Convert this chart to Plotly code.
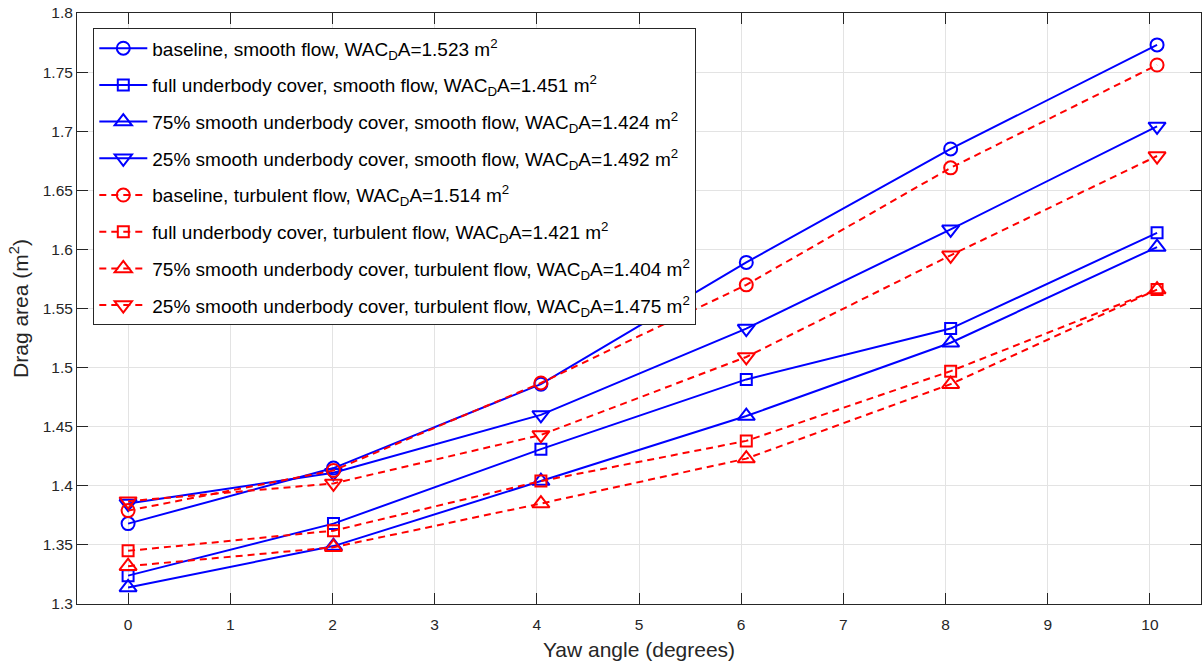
import plotly.graph_objects as go

yaw = [0, 2.01, 4.04, 6.05, 8.05, 10.07]

baseline_smooth = [1.368, 1.415, 1.486, 1.589, 1.685, 1.773]
full_smooth = [1.324, 1.368, 1.431, 1.490, 1.533, 1.614]
p75_smooth = [1.314, 1.349, 1.404, 1.459, 1.521, 1.602]
p25_smooth = [1.385, 1.411, 1.460, 1.533, 1.617, 1.704]
baseline_turb = [1.379, 1.413, 1.487, 1.570, 1.669, 1.756]
full_turb = [1.345, 1.362, 1.404, 1.438, 1.497, 1.566]
p75_turb = [1.332, 1.348, 1.385, 1.423, 1.486, 1.566]
p25_turb = [1.387, 1.402, 1.443, 1.509, 1.595, 1.679]

names = [
    "baseline, smooth flow, WAC<sub>D</sub>A=1.523 m<sup>2</sup>",
    "full underbody cover, smooth flow, WAC<sub>D</sub>A=1.451 m<sup>2</sup>",
    "75% smooth underbody cover, smooth flow, WAC<sub>D</sub>A=1.424 m<sup>2</sup>",
    "25% smooth underbody cover, smooth flow, WAC<sub>D</sub>A=1.492 m<sup>2</sup>",
    "baseline, turbulent flow, WAC<sub>D</sub>A=1.514 m<sup>2</sup>",
    "full underbody cover, turbulent flow, WAC<sub>D</sub>A=1.421 m<sup>2</sup>",
    "75% smooth underbody cover, turbulent flow, WAC<sub>D</sub>A=1.404 m<sup>2</sup>",
    "25% smooth underbody cover, turbulent flow, WAC<sub>D</sub>A=1.475 m<sup>2</sup>",
]
series = [baseline_smooth, full_smooth, p75_smooth, p25_smooth,
          baseline_turb, full_turb, p75_turb, p25_turb]
symbols = ["circle-open", "square-open", "triangle-up-open", "triangle-down-open"] * 2
sizes = [13, 11, 15, 15] * 2
colors = ["#0000ff"] * 4 + ["#ff0000"] * 4
dashes = ["solid"] * 4 + ["7px,5px"] * 4

fig = go.Figure()
for i in range(8):
    fig.add_trace(go.Scatter(
        x=yaw, y=series[i], name=names[i], mode="lines+markers",
        line=dict(color=colors[i], width=2, dash=dashes[i]),
        marker=dict(symbol=symbols[i], size=sizes[i], color=colors[i],
                    line=dict(width=2, color=colors[i])),
        legendgroup="g%d" % i,
    ))

FONT = "Liberation Sans, Arial, sans-serif"
axis_common = dict(
    showline=True, linecolor="#262626", linewidth=1, mirror="allticks",
    ticks="inside", ticklen=11, tickcolor="#262626", tickwidth=1,
    showgrid=True, gridcolor="#e3e3e3", gridwidth=1, zeroline=False,
    tickfont=dict(family=FONT, size=15.5, color="#262626"),
)

fig.update_layout(
    width=1202, height=662,
    margin=dict(l=77, r=1, t=13, b=58),
    paper_bgcolor="white", plot_bgcolor="white",
    font=dict(family=FONT, color="#262626"),
    xaxis=dict(range=[-0.5, 10.5], tickmode="linear", tick0=0, dtick=1,
               ticklabelstandoff=6,
               title=dict(text="Yaw angle (degrees)", font=dict(size=21, color="#262626"), standoff=10),
               **axis_common),
    yaxis=dict(range=[1.3, 1.8], tickmode="linear", tick0=1.3, dtick=0.05,
               title=dict(text="Drag area (m<sup>2</sup>)", font=dict(size=21, color="#262626"), standoff=8),
               **axis_common),
    legend=dict(x=0.0145, y=0.974, xanchor="left", yanchor="top",
                bgcolor="white", bordercolor="#262626", borderwidth=1,
                font=dict(size=19, color="#000000"), tracegroupgap=9, itemwidth=48),
    showlegend=True,
)

fig.write_html("out.html")
